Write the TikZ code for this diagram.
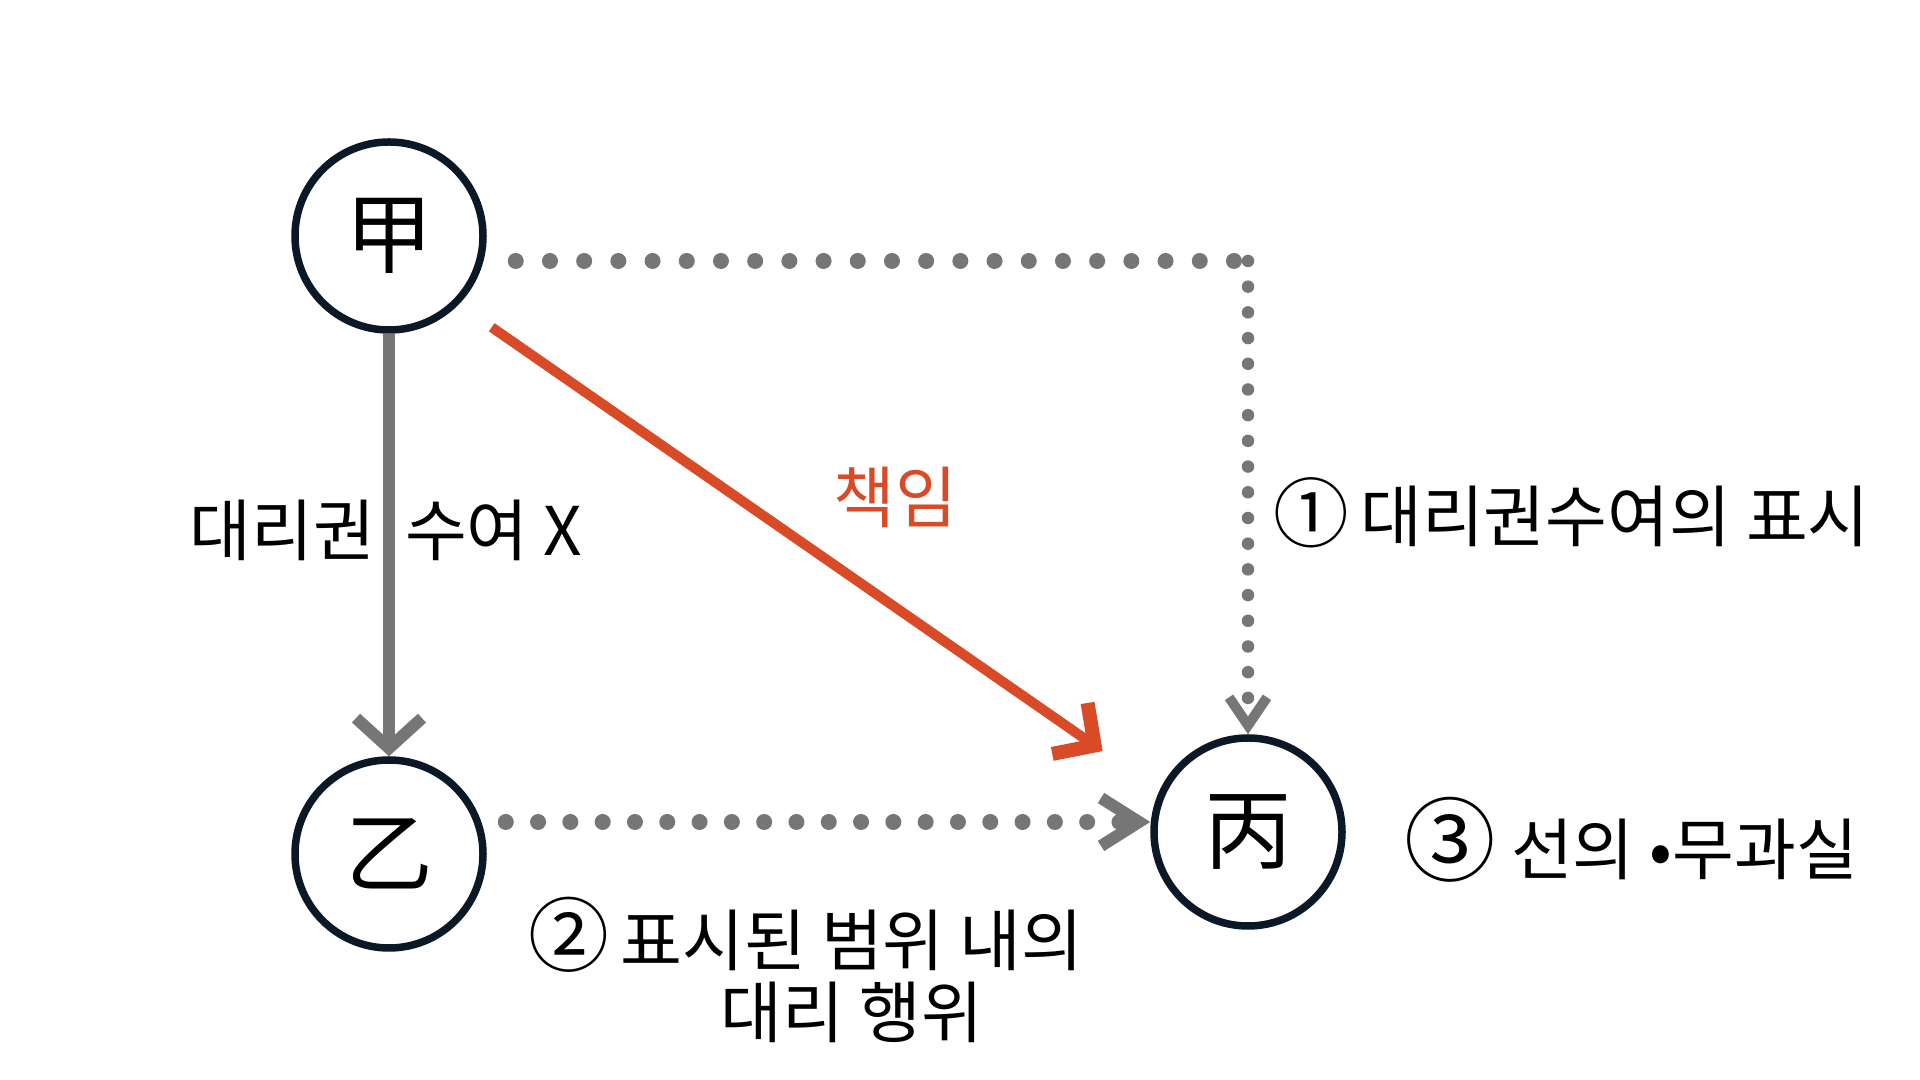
\documentclass[tikz,border=0pt]{standalone}
\usepackage{fontspec}
\usepackage{tikz}
\usetikzlibrary{positioning,arrows.meta}
\newfontfamily\krfont{Noto Sans CJK KR}
\newcommand{\marknum}[2]{{\fontsize{#1}{20}\selectfont #2}}
\definecolor{inkline}{HTML}{0B1926}
\definecolor{linkgray}{HTML}{767676}
\definecolor{dutyred}{HTML}{D94A26}
\tikzset{
  party/.style={draw=inkline, line width=0.075cm, circle, minimum size=1.88cm, inner sep=0pt, font=\krfont\fontsize{25}{25}\selectfont},
  grantarrow/.style={draw=linkgray, line width=0.12cm, -{Straight Barb[length=0.3cm, width=0.66cm]}},
  dutyarrow/.style={draw=dutyred, line width=0.1cm, -{Straight Barb[length=0.3cm, width=0.62cm, line width=0.14cm]}},
  topdots/.style={draw=linkgray, line cap=round, line width=0.16cm, dash pattern=on 0pt off 0.342cm},
  sidedots/.style={draw=linkgray, line cap=round, line width=0.125cm, dash pattern=on 0pt off 0.257cm, -{Straight Barb[length=0.28cm, width=0.38cm, line width=0.1cm]}},
  lowdots/.style={draw=linkgray, line cap=round, line width=0.16cm, dash pattern=on 0pt off 0.323cm, -{Straight Barb[length=0.38cm, width=0.48cm, line width=0.12cm]}},
  note/.style={font=\krfont\fontsize{19.1}{20.6}\selectfont, inner sep=0pt, align=center}
}

\begin{document}
\begin{tikzpicture}
  \useasboundingbox (0,0) rectangle (19.2,10.8);
  % parties
  \node[party] (jia) at (3.89,8.44) {甲};
  \node[party] (yi) at (3.89,2.26) {乙};
  \node[party] (bing) at (12.48,2.48) {丙};

  % links
  \draw[grantarrow] (jia) -- (yi);
  \draw[dutyarrow, shorten <=1.25cm, shorten >=1.77cm] ([yshift=-0.2cm]jia.center) -- ([yshift=-0.2cm]bing.center);
  \path (jia.east -| bing.north) ++(0,-0.25) coordinate (turn);
  \draw[topdots] ([shift={(0.29,-0.25)}]jia.east) -- (turn);
  \draw[sidedots] (turn) -- (bing);
  \draw[lowdots] ([shift={(0.19,0.32)}]yi.east) -- ([yshift=0.1cm]bing.west);

  % labels
  \node[note] (nogrant) at (3.86,5.50) {대리권\ \ 수여 X};
  \node[note, text=dutyred] (duty) at (8.95,5.83) {책임};
  \node[note, anchor=west] (shown) at (12.73,5.67) {\marknum{21.5}{①}\,대리권수여의 표시};
  \node[note, anchor=west] (faith) at (14.04,2.40) {\marknum{26}{③} 선의 •무과실};
  \node[note] (scope) at (8.52,1.10) {\llap{\marknum{23}{②}\,}표시된 범위 내의\\대리 행위};
\end{tikzpicture}
\end{document}
